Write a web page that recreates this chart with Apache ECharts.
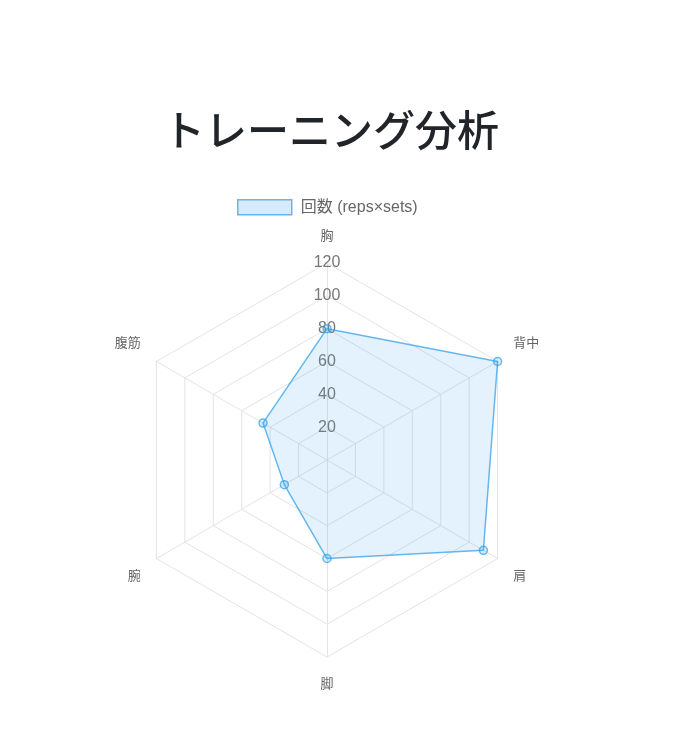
<!DOCTYPE html>
<html>
<head>
<meta charset="utf-8">
<script src="https://cdn.jsdelivr.net/npm/echarts@6/dist/echarts.min.js"></script>
<style>
html,body{margin:0;padding:0;background:#fff;}
#chart{width:676px;height:733px;}
</style>
</head>
<body>
<div id="chart"></div>
<script>
const titleText = 'トレーニング分析';
const seriesName = '回数 (reps×sets)';
const categories = ['胸', '背中', '肩', '脚', '腕', '腹筋'];
const values = [80, 120, 110, 60, 30, 45];
const axisMax = 120;
const axisStep = 20;

// ECharts radar runs counter-clockwise; reorder so the axes go clockwise from the top.
const order = [0].concat(categories.map((_, i) => i).slice(1).reverse());
const catsCW = order.map(i => categories[i]);
const valsCW = order.map(i => values[i]);

const FONT = '"Liberation Sans", "Noto Sans CJK JP", sans-serif';
const CENTER = [327, 460];
const RADIUS = 197;
const NAME_STYLE = { color: '#666', fontSize: 13, fontFamily: FONT };

function nameStyleKey(name) {
  const k = catsCW.indexOf(name);
  const ang = 90 - k * 360 / catsCW.length;
  const s = Math.sin(ang * Math.PI / 180);
  if (s > 0.99) return 't';
  if (s < -0.99) return 'b';
  return s > 0 ? 'u' : 'd';
}

const chart = echarts.init(document.getElementById('chart'));
chart.setOption({
  animation: false,
  backgroundColor: '#ffffff',
  title: {
    text: titleText,
    left: 158,
    top: 104,
    textStyle: { fontSize: 42, fontWeight: 500, color: '#212529', fontFamily: '"Noto Sans CJK JP", sans-serif' }
  },
  legend: {
    top: 194,
    left: 232,
    itemWidth: 54,
    itemHeight: 15,
    itemGap: 8,
    textStyle: { fontSize: 16, color: '#666', fontFamily: FONT, padding: [0, 0, 0, 4] },
    data: [{
      name: seriesName,
      icon: 'rect',
      itemStyle: { color: 'rgba(54,162,235,0.2)', borderColor: 'rgba(54,162,235,0.75)', borderWidth: 1.5 }
    }]
  },
  radar: {
    center: CENTER,
    radius: RADIUS,
    startAngle: 90,
    splitNumber: axisMax / axisStep,
    shape: 'polygon',
    indicator: catsCW.map(c => ({ name: c, min: 0, max: axisMax })),
    axisName: Object.assign({}, NAME_STYLE, {
      formatter: name => '{' + nameStyleKey(name) + '|' + name + '}',
      rich: {
        t: Object.assign({}, NAME_STYLE, { padding: [0, 0, 2, 0] }),
        b: Object.assign({}, NAME_STYLE, { padding: [3, 0, 0, 0] }),
        u: Object.assign({}, NAME_STYLE, { padding: [0, 0, 18, 0] }),
        d: Object.assign({}, NAME_STYLE, { padding: [18, 0, 0, 0] })
      }
    }),
    nameGap: 18,
    splitArea: { show: false },
    splitLine: { lineStyle: { color: '#e4e4e4', width: 1 } },
    axisLine: { lineStyle: { color: '#e4e4e4', width: 1 } },
    axisLabel: { show: false }
  },
  polar: { center: CENTER, radius: RADIUS },
  angleAxis: { show: false, startAngle: 90, min: 0, max: 360 },
  radiusAxis: {
    min: 0,
    max: axisMax,
    interval: axisStep,
    axisLine: { show: false },
    axisTick: { show: false },
    splitLine: { show: false },
    z: 1,
    axisLabel: {
      show: true,
      showMinLabel: false,
      margin: 0,
      align: 'center',
      verticalAlign: 'middle',
      padding: [0, 0, 5, 0],
      color: '#777',
      fontSize: 16,
      fontFamily: FONT,
      rotate: 0
    }
  },
  series: [{
    type: 'radar',
    name: seriesName,
    z: 5,
    symbol: 'circle',
    symbolSize: 8,
    lineStyle: { color: 'rgba(54,162,235,0.75)', width: 1.5 },
    itemStyle: { color: 'rgba(54,162,235,0.2)', borderColor: 'rgba(54,162,235,0.75)', borderWidth: 1.5 },
    areaStyle: { color: 'rgba(54,162,235,0.2)' },
    data: [{ value: valsCW, name: seriesName }]
  }]
});
</script>
</body>
</html>
